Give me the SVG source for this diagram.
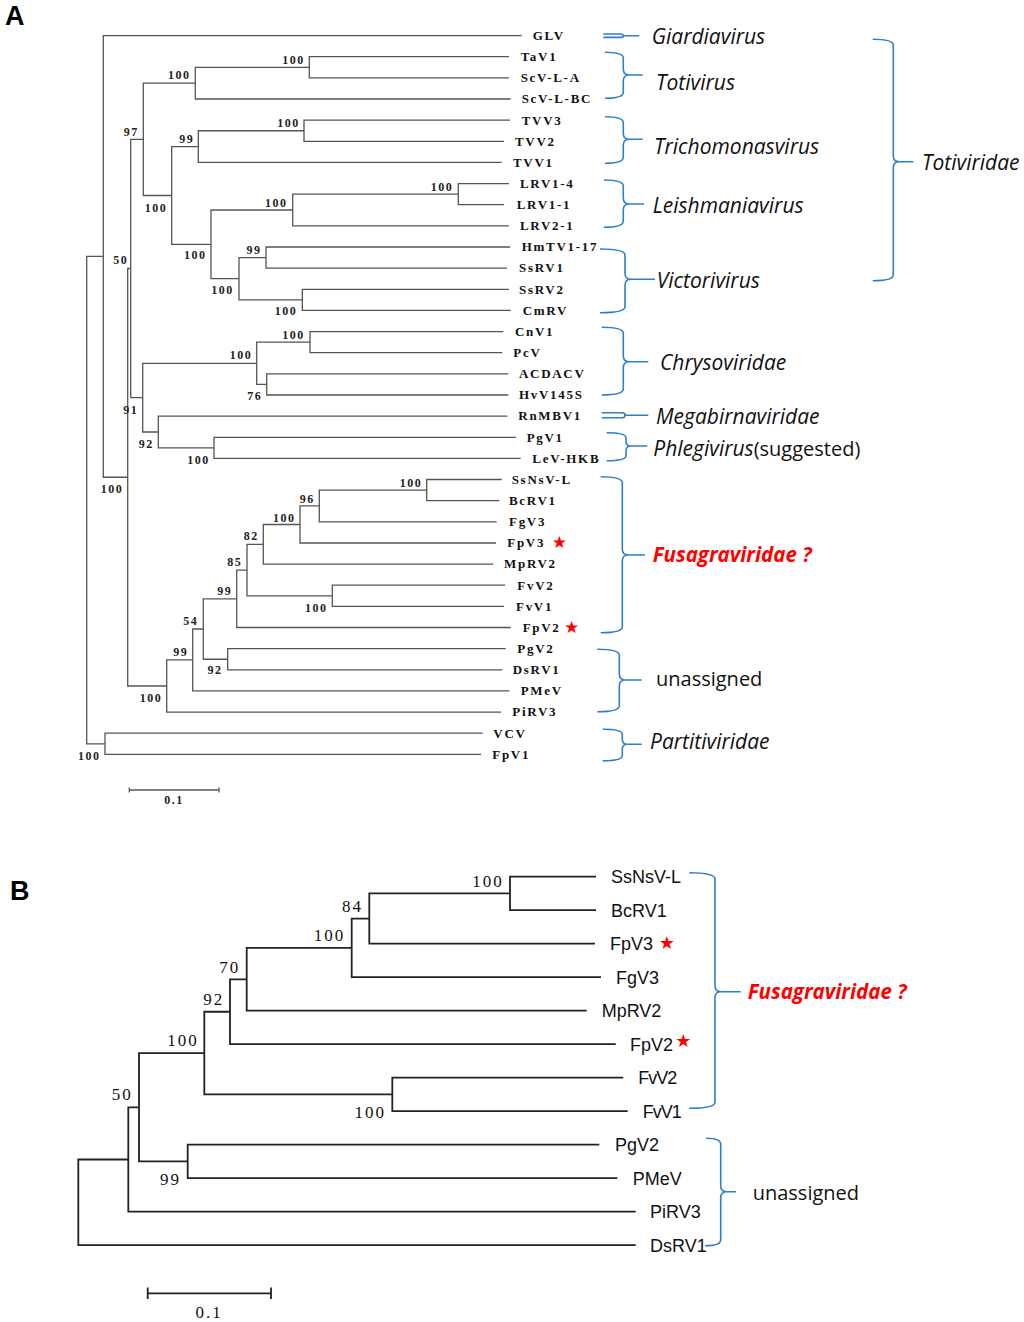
<svg xmlns="http://www.w3.org/2000/svg" width="1024" height="1322" viewBox="0 0 1024 1322">
<style>
.bg{fill:#fff}
.ta{fill:none;stroke:#555;stroke-width:1.3}
.tb{fill:none;stroke:#222;stroke-width:1.8}
.br{fill:none;stroke:#2E7FC8;stroke-width:1.6}
.la{font-family:"Liberation Serif",serif;font-weight:bold;font-size:13px;letter-spacing:1.7px;fill:#111}
.bsa{font-family:"Liberation Serif",serif;font-weight:bold;font-size:12px;letter-spacing:1.5px;fill:#222;text-anchor:end}
.lb{font-family:"Liberation Sans",Arial,sans-serif;font-size:18px;fill:#111}
.bsb{font-family:"Liberation Serif",serif;font-size:17px;letter-spacing:2px;fill:#111;text-anchor:end}
.tx{font-family:"Open Sans","Liberation Sans",sans-serif;font-size:20px;fill:#111}
.it{font-style:italic;font-size:21px}
.fu{font-family:"Open Sans","Liberation Sans",sans-serif;font-size:20.5px;font-style:italic;font-weight:bold;fill:#F00}
.star{font-family:"DejaVu Sans",sans-serif;fill:#F00;text-anchor:middle}
.pl{font-family:"Liberation Sans",Arial,sans-serif;font-weight:bold;font-size:27px;fill:#000}
</style>
<rect class="bg" width="1024" height="1322"/>
<text class="pl" x="5" y="25">A</text>
<text class="pl" x="10" y="900">B</text>

<g id="connectors-A">
<path class="ta" d="M509 56.7H309.3V77.9H509"/>
<path class="ta" d="M309.3 67.3H195.3V99H510.7"/>
<path class="ta" d="M510 120.2H304V141.3H504"/>
<path class="ta" d="M304 130.75H198.3V162.4H501.7"/>
<path class="ta" d="M509 183.6H458.3V204.7H504"/>
<path class="ta" d="M458.3 194.15H292.7V225.9H509"/>
<path class="ta" d="M510 247H266V268.1H507"/>
<path class="ta" d="M509 289.3H302.3V310.4H510.7"/>
<path class="ta" d="M266 257.55H239V299.85H302.3"/>
<path class="ta" d="M292.7 210H211V278.7H239"/>
<path class="ta" d="M198.3 146.6H171.7V244.35H211"/>
<path class="ta" d="M195.3 83.15H143.3V195.5H171.7"/>
<path class="ta" d="M503.3 331.6H310V352.7H502.3"/>
<path class="ta" d="M508.3 373.8H266.7V395H508.3"/>
<path class="ta" d="M310 342.15H256.7V384.4H266.7"/>
<path class="ta" d="M516 437.3H214V458.4H520.7"/>
<path class="ta" d="M507.3 416.1H158.3V447.85H214"/>
<path class="ta" d="M256.7 363.3H142.7V432H158.3"/>
<path class="ta" d="M143.3 139.3H130.7V397.65H142.7"/>
<path class="ta" d="M501.7 479.5H426.7V500.7H499.3"/>
<path class="ta" d="M426.7 490.1H319.3V521.8H496.7"/>
<path class="ta" d="M319.3 505.95H300V543H496"/>
<path class="ta" d="M300 524.5H263.3V564.1H493.3"/>
<path class="ta" d="M505 585.2H332.3V606.4H504"/>
<path class="ta" d="M263.3 544.3H247V595.8H332.3"/>
<path class="ta" d="M247 570.05H236.7V627.5H510.7"/>
<path class="ta" d="M505.7 648.7H227.7V669.8H502.3"/>
<path class="ta" d="M236.7 598.8H203.3V659.25H227.7"/>
<path class="ta" d="M203.3 629H192.7V690.9H509.3"/>
<path class="ta" d="M192.7 659.95H166.7V712.1H501"/>
<path class="ta" d="M130.7 268.5H127.7V686H166.7"/>
<path class="ta" d="M521.7 35.6H103.3V477.25H127.7"/>
<path class="ta" d="M482.7 733.2H105V754.4H481"/>
<path class="ta" d="M103.3 256.4H86.7V743.8H105"/>
<path class="ta" d="M129.3 790H219M129.3 787.5V792.5M219 787.5V792.5"/>
</g>
<text class="bsa" x="174" y="804" style="text-anchor:middle">0.1</text>

<g id="bootstrap-A">
<text class="bsa" x="304.8" y="63.5">100</text>
<text class="bsa" x="190.5" y="79.2">100</text>
<text class="bsa" x="138.8" y="136">97</text>
<text class="bsa" x="194.2" y="142.5">99</text>
<text class="bsa" x="299.8" y="127">100</text>
<text class="bsa" x="167.2" y="211.5">100</text>
<text class="bsa" x="453.2" y="191">100</text>
<text class="bsa" x="287.5" y="206.5">100</text>
<text class="bsa" x="261.5" y="253.5">99</text>
<text class="bsa" x="206.5" y="259.2">100</text>
<text class="bsa" x="128.2" y="264.2">50</text>
<text class="bsa" x="233.8" y="294.2">100</text>
<text class="bsa" x="297.2" y="315.2">100</text>
<text class="bsa" x="304.8" y="338.5">100</text>
<text class="bsa" x="252.2" y="359.2">100</text>
<text class="bsa" x="262.2" y="400">76</text>
<text class="bsa" x="138.2" y="414.2">91</text>
<text class="bsa" x="153.8" y="447.5">92</text>
<text class="bsa" x="209.8" y="463.5">100</text>
<text class="bsa" x="123.2" y="493.2">100</text>
<text class="bsa" x="422.2" y="487">100</text>
<text class="bsa" x="314.8" y="502.5">96</text>
<text class="bsa" x="295.5" y="521.5">100</text>
<text class="bsa" x="258.8" y="540.2">82</text>
<text class="bsa" x="242.2" y="566">85</text>
<text class="bsa" x="232.2" y="595">99</text>
<text class="bsa" x="327.5" y="612">100</text>
<text class="bsa" x="198.2" y="625.2">54</text>
<text class="bsa" x="188.2" y="656">99</text>
<text class="bsa" x="222.5" y="674.2">92</text>
<text class="bsa" x="162.2" y="702">100</text>
<text class="bsa" x="100.5" y="760">100</text>
</g>

<g id="leaves-A">
<text class="la" id="a-GLV" x="532.7" y="39.9">GLV</text>
<text class="la" id="a-TaV1" x="520.7" y="61">TaV1</text>
<text class="la" id="a-ScVLA" x="520.7" y="82.2">ScV-L-A</text>
<text class="la" id="a-ScVLBC" x="521.7" y="103.3">ScV-L-BC</text>
<text class="la" id="a-TVV3" x="521.7" y="124.5">TVV3</text>
<text class="la" id="a-TVV2" x="515" y="145.6">TVV2</text>
<text class="la" id="a-TVV1" x="513" y="166.7">TVV1</text>
<text class="la" id="a-LRV14" x="520" y="187.9">LRV1-4</text>
<text class="la" id="a-LRV11" x="516.7" y="209">LRV1-1</text>
<text class="la" id="a-LRV21" x="520" y="230.2">LRV2-1</text>
<text class="la" id="a-HmTV" x="521.7" y="251.3">HmTV1-17</text>
<text class="la" id="a-SsRV1" x="519" y="272.4">SsRV1</text>
<text class="la" id="a-SsRV2" x="519" y="293.6">SsRV2</text>
<text class="la" id="a-CmRV" x="522.7" y="314.7">CmRV</text>
<text class="la" id="a-CnV1" x="515" y="335.9">CnV1</text>
<text class="la" id="a-PcV" x="513.3" y="357">PcV</text>
<text class="la" id="a-ACDACV" x="519" y="378.1">ACDACV</text>
<text class="la" id="a-HvV" x="519" y="399.3">HvV145S</text>
<text class="la" id="a-RnMBV1" x="518.3" y="420.4">RnMBV1</text>
<text class="la" id="a-PgV1" x="526.7" y="441.6">PgV1</text>
<text class="la" id="a-LeV" x="532.3" y="462.7">LeV-HKB</text>
<text class="la" id="a-SsNsVL" x="511.7" y="483.8">SsNsV-L</text>
<text class="la" id="a-BcRV1" x="509" y="505">BcRV1</text>
<text class="la" id="a-FgV3" x="509" y="526.1">FgV3</text>
<text class="la" id="a-FpV3" x="507.3" y="547.3">FpV3</text>
<text class="la" id="a-MpRV2" x="504" y="568.4">MpRV2</text>
<text class="la" id="a-FvV2" x="517.3" y="589.5">FvV2</text>
<text class="la" id="a-FvV1" x="516" y="610.7">FvV1</text>
<text class="la" id="a-FpV2" x="522.7" y="631.8">FpV2</text>
<text class="la" id="a-PgV2" x="517.3" y="653">PgV2</text>
<text class="la" id="a-DsRV1" x="512.7" y="674.1">DsRV1</text>
<text class="la" id="a-PMeV" x="520.7" y="695.2">PMeV</text>
<text class="la" id="a-PiRV3" x="512.3" y="716.4">PiRV3</text>
<text class="la" id="a-VCV" x="493.3" y="737.5">VCV</text>
<text class="la" id="a-FpV1" x="492.3" y="758.7">FpV1</text>
<text class="star" x="559.3" y="548" font-size="17">★</text>
<text class="star" x="571.7" y="633" font-size="17">★</text>
</g>

<g id="brackets-A">
<path class="br" d="M603.3 34H621Q623.3 34 623.3 35.7Q623.3 37.4 621 37.4H603.3M623.3 35.7H639.3"/>
<path class="br" d="M605 52.3Q623.3 52.3 623.3 58V69Q623.3 75 629 75H642.7M629 75Q623.3 75 623.3 81V92.3Q623.3 98.3 605 98.3"/>
<path class="br" d="M605 116.7Q623.3 116.7 623.3 122.7V133.3Q623.3 139.3 629 139.3H642.7M629 139.3Q623.3 139.3 623.3 145.3V157.3Q623.3 163.3 605 163.3"/>
<path class="br" d="M604 180Q623.3 180 623.3 186V198Q623.3 204 629 204H644M629 204Q623.3 204 623.3 210V221.3Q623.3 227.3 604 227.3"/>
<path class="br" d="M600 249Q625 249 625 255V273.3Q625 279.3 631 279.3H655M631 279.3Q625 279.3 625 285.3V306.7Q625 312.7 600 312.7"/>
<path class="br" d="M872.7 39.3Q893.3 39.3 893.3 45.3V155.7Q893.3 161.7 899.3 161.7H913.3M899.3 161.7Q893.3 161.7 893.3 167.7V274.7Q893.3 280.7 872.7 280.7"/>
<path class="br" d="M601.7 327.3Q623.3 327.3 623.3 333.3V355.7Q623.3 361.7 629.3 361.7H648.3M629.3 361.7Q623.3 361.7 623.3 367.7V389Q623.3 395 601.7 395"/>
<path class="br" d="M601.7 412.7H622.5Q625 412.7 625 415.2Q625 417.7 622.5 417.7H601.7M625 415.2H648.3"/>
<path class="br" d="M606.7 432.7Q626 432.7 626 437.7V441Q626 446 631 446H647.3M631 446Q626 446 626 451V455.7Q626 460.7 606.7 460.7"/>
<path class="br" d="M600.7 476.7Q622.3 476.7 622.3 482.7V549Q622.3 555 628.3 555H645M628.3 555Q622.3 555 622.3 561V626.7Q622.3 632.7 600.7 632.7"/>
<path class="br" d="M597.3 649.3Q619.3 649.3 619.3 655.3V674Q619.3 680 625.3 680H641.7M625.3 680Q619.3 680 619.3 686V705.7Q619.3 711.7 597.3 711.7"/>
<path class="br" d="M602.7 729.3Q622.3 729.3 622.3 734.3V739.3Q622.3 744.3 627.3 744.3H641.7M627.3 744.3Q622.3 744.3 622.3 749.3V755.7Q622.3 760.7 602.7 760.7"/>
</g>

<g id="labels-A">
<text class="tx it" x="651.7" y="43.5">Giardiavirus</text>
<text class="tx it" x="656" y="89.5">Totivirus</text>
<text class="tx it" x="654" y="153.5">Trichomonasvirus</text>
<text class="tx it" x="652.7" y="212.5">Leishmaniavirus</text>
<text class="tx it" x="656.7" y="287.5">Victorivirus</text>
<text class="tx it" x="922" y="170">Totiviridae</text>
<text class="tx it" x="660" y="370">Chrysoviridae</text>
<text class="tx it" x="656" y="424">Megabirnaviridae</text>
<text class="tx" x="653.3" y="456" font-size="21"><tspan class="it">Phlegivirus</tspan>(suggested)</text>
<text class="fu" x="652.7" y="562">Fusagraviridae ?</text>
<text class="tx" x="656" y="686">unassigned</text>
<text class="tx it" x="650" y="748.5">Partitiviridae</text>
</g>

<g id="connectors-B">
<path class="tb" d="M596 876.7H510V910.2H596"/>
<path class="tb" d="M510 893.45H369.3V943.7H595"/>
<path class="tb" d="M369.3 918.6H351.7V977.2H601"/>
<path class="tb" d="M351.7 947.9H246.7V1010.7H586.7"/>
<path class="tb" d="M246.7 979.3H230V1044.2H615.7"/>
<path class="tb" d="M623.3 1077.7H392.3V1111.2H627.7"/>
<path class="tb" d="M230 1011.75H204.3V1094.45H392.3"/>
<path class="tb" d="M599.3 1144.7H187.7V1178.2H617.3"/>
<path class="tb" d="M204.3 1053.1H139V1161.45H187.7"/>
<path class="tb" d="M139 1107.3H128.3V1211.7H635.7"/>
<path class="tb" d="M128.3 1159.5H78.3V1245.2H635.7"/>
<path class="tb" d="M147.7 1293.3H271M147.7 1287.5V1299M271 1287.5V1299"/>
</g>
<text class="bsb" x="209" y="1318" style="text-anchor:middle">0.1</text>

<g id="bootstrap-B">
<text class="bsb" x="503.7" y="886.7">100</text>
<text class="bsb" x="363" y="911.7">84</text>
<text class="bsb" x="345.3" y="941">100</text>
<text class="bsb" x="240.3" y="972.7">70</text>
<text class="bsb" x="224.3" y="1005">92</text>
<text class="bsb" x="198.7" y="1046">100</text>
<text class="bsb" x="386" y="1118.3">100</text>
<text class="bsb" x="132.7" y="1100.3">50</text>
<text class="bsb" x="181" y="1185">99</text>
</g>

<g id="leaves-B">
<text class="lb" id="b-SsNsVL" x="611" y="883">SsNsV-L</text>
<text class="lb" id="b-BcRV1" x="611" y="916.5">BcRV1</text>
<text class="lb" id="b-FpV3" x="610" y="950">FpV3</text>
<text class="lb" id="b-FgV3" x="616" y="983.5">FgV3</text>
<text class="lb" id="b-MpRV2" x="601.7" y="1017">MpRV2</text>
<text class="lb" id="b-FpV2" x="630" y="1050.5">FpV2</text>
<text class="lb" id="b-FvV2" x="638.3" y="1084" letter-spacing="-1">FvV2</text>
<text class="lb" id="b-FvV1" x="642.7" y="1117.5" letter-spacing="-1">FvV1</text>
<text class="lb" id="b-PgV2" x="615" y="1151">PgV2</text>
<text class="lb" id="b-PMeV" x="632.7" y="1184.5">PMeV</text>
<text class="lb" id="b-PiRV3" x="650" y="1218">PiRV3</text>
<text class="lb" id="b-DsRV1" x="650" y="1251.5">DsRV1</text>
<text class="star" x="666.7" y="949" font-size="18">★</text>
<text class="star" x="683.3" y="1047" font-size="18">★</text>
</g>

<g id="brackets-B">
<path class="br" d="M689.3 872.7Q715 872.7 715 879V985.7Q715 991.7 721 991.7H740.7M721 991.7Q715 991.7 715 997.7V1102.3Q715 1108.3 689.3 1108.3"/>
<path class="br" d="M706 1138.3Q720.7 1138.3 720.7 1144.3V1185.7Q720.7 1191.7 726.7 1191.7H736M726.7 1191.7Q720.7 1191.7 720.7 1197.7V1239.7Q720.7 1245.7 705 1245.7"/>
</g>

<g id="labels-B">
<text class="fu" x="747.7" y="998.7">Fusagraviridae ?</text>
<text class="tx" x="752.7" y="1200">unassigned</text>
</g>
</svg>
